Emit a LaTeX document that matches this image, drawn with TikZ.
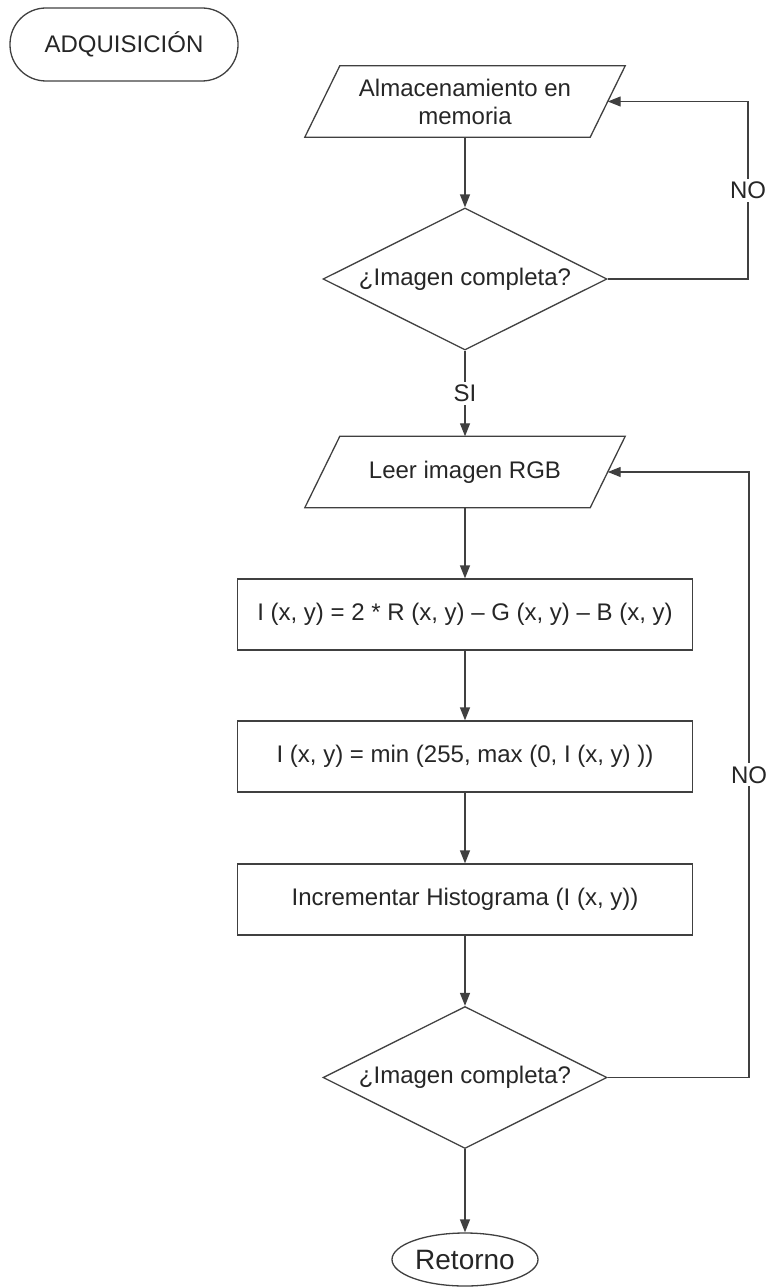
\documentclass[tikz,border=0pt]{standalone}
\usepackage{fontspec}
\setmainfont{Liberation Sans}
\usetikzlibrary{shapes.geometric,arrows.meta}
\definecolor{ln}{HTML}{404040}
\definecolor{tx}{HTML}{262626}
\begin{document}
\begin{tikzpicture}[x=1pt,y=-1pt,
  every node/.style={font=\fontsize{24}{28}\selectfont, text=tx},
  line/.style={draw=ln, line width=1.3pt},
  arr/.style={line, -{Triangle[length=13pt,width=10pt]}},
  procbox/.style={line, rectangle, minimum width=455pt, minimum height=71pt, inner sep=0pt},
  iobox/.style={rectangle, minimum width=320pt, minimum height=71pt, inner sep=0pt, align=center},
  decision/.style={line, diamond, aspect=2, minimum width=284pt, minimum height=142pt, inner sep=0pt},
  term/.style={line, rectangle, rounded corners=36pt, minimum width=228pt, minimum height=73pt},
  endterm/.style={line, ellipse, minimum width=146pt, minimum height=53pt, inner sep=0pt, font=\fontsize{28}{30}\selectfont},
  lbl/.style={fill=white, inner sep=3pt}
]
\useasboundingbox (0,0) rectangle (769,1287);

\node[term] (adq) at (124,44.5) {ADQUISICIÓN};

\node[iobox] (alm) at (465,101.5) {Almacenamiento en\\memoria};
\draw[line] ([xshift=35pt]alm.north west) -- (alm.north east) -- ([xshift=-35pt]alm.south east) -- (alm.south west) -- cycle;
\coordinate (almR) at ([xshift=-17.5pt]alm.east);

\node[decision] (d1) at (465,279) {¿Imagen completa?};

\node[iobox] (leer) at (465,472) {Leer imagen RGB};
\draw[line] ([xshift=35pt]leer.north west) -- (leer.north east) -- ([xshift=-35pt]leer.south east) -- (leer.south west) -- cycle;
\coordinate (leerR) at ([xshift=-17.5pt]leer.east);

\node[procbox] (p1) at (465,614.5) {I (x, y) = 2 * R (x, y) – G (x, y) – B (x, y)};
\node[procbox] (p2) at (465,756.5) {I (x, y) = min (255, max (0, I (x, y) ))};
\node[procbox] (p3) at (465,899.5) {Incrementar Histograma (I (x, y))};

\node[decision] (d2) at (465,1077.5) {¿Imagen completa?};

\node[endterm] (ret) at (465,1259.5) {Retorno};

\coordinate (r1) at (748,0);
\coordinate (r2) at (749,0);

\draw[arr] (alm.south) -- (d1.north);
\draw[arr] (d1.south) -- node[lbl] {SI} (leer.north);
\draw[arr] (d1.east) -- (d1.east -| r1) -- node[lbl] {NO} (r1 |- almR) -- (almR);
\draw[arr] (leer.south) -- (p1.north);
\draw[arr] (p1.south) -- (p2.north);
\draw[arr] (p2.south) -- (p3.north);
\draw[arr] (p3.south) -- (d2.north);
\draw[arr] (d2.south) -- (ret.north);
\draw[arr] (d2.east) -- (d2.east -| r2) -- node[lbl] {NO} (r2 |- leerR) -- (leerR);
\end{tikzpicture}
\end{document}
